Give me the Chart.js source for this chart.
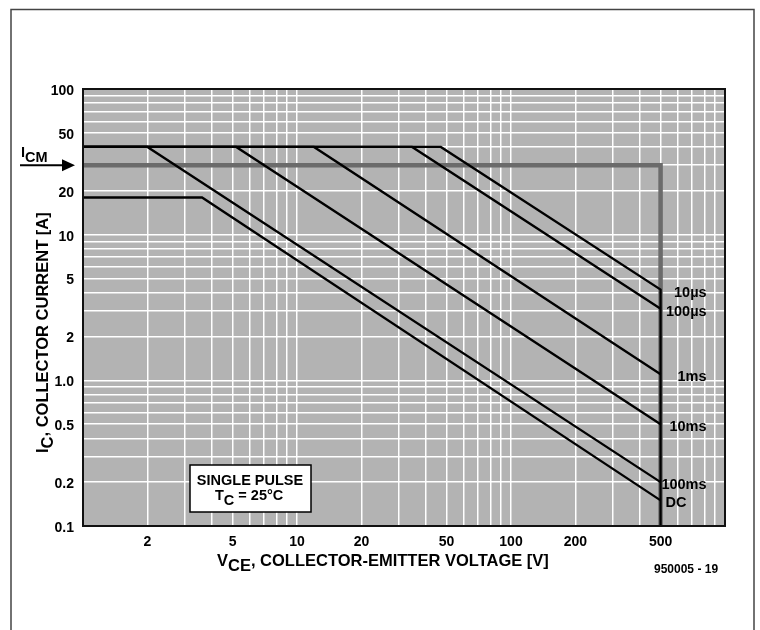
<!DOCTYPE html>
<html>
<head>
<meta charset="utf-8">
<script src="https://cdn.jsdelivr.net/npm/chart.js@4.4.0/dist/chart.umd.min.js"></script>
<style>
  html, body { margin: 0; padding: 0; background: #fff; }
  #wrap { width: 760px; height: 630px; }
</style>
</head>
<body>
<div id="wrap"><canvas id="soa" width="760" height="630"></canvas></div>
<script>
// safe operating area
const pulseLabels = ['10µs', '100µs', '1ms', '10ms', '100ms', 'DC'];
const kneeVolts = [47, 34.5, 12, 5.2, 2, 3.6];
const kneeAmps = [40, 40, 40, 40, 40, 18];
const endAmps = [4.2, 3.1, 1.1, 0.5, 0.2, 0.15];
const startVolts = 1;
const endVolts = 500;
const icmAmps = 30;
const xTickLabels = [2, 5, 10, 20, 50, 100, 200, 500];
const yTickLabels = [0.1, 0.2, 0.5, 1, 2, 5, 10, 20, 50, 100];

const X_MIN = 1, X_MAX = 1000, Y_MIN = 0.1, Y_MAX = 100;
const FONT = '"Liberation Sans", Arial, sans-serif';

const decadeTicks = (lo, hi) => {
  const out = [];
  for (let e = Math.round(Math.log10(lo)); e < Math.round(Math.log10(hi)); e++) {
    for (let m = 1; m < 10; m++) out.push(Number((m * Math.pow(10, e)).toPrecision(3)));
  }
  out.push(hi);
  return out;
};

const hasLabel = (list, v) => list.some(l => Math.abs(l - v) < 1e-9 * Math.max(1, l));

// one dataset per curve
const curveSets = pulseLabels.map((label, i) => {
  const pts = [
    { x: startVolts, y: kneeAmps[i] },
    { x: kneeVolts[i], y: kneeAmps[i] },
    { x: endVolts, y: endAmps[i] },
  ];
  if (i === 0) pts.push({ x: endVolts, y: Y_MIN });
  return {
    label,
    data: pts,
    borderColor: '#000',
    borderWidth: 2.3,
    pointRadius: 0,
    fill: false,
    order: 1,
  };
});

const icmSet = {
  label: 'ICM',
  data: [
    { x: startVolts, y: icmAmps },
    { x: endVolts, y: icmAmps },
    { x: endVolts, y: Y_MIN },
  ],
  borderColor: '#6b6b6b',
  borderWidth: 4.5,
  pointRadius: 0,
  fill: false,
  order: 2,
};

const drawParts = (ctx, x, y, parts) => {
  parts.forEach(p => {
    ctx.font = p.font;
    ctx.fillText(p.t, x, y + (p.dy || 0));
    x += ctx.measureText(p.t).width;
  });
  return x;
};

const sheetDecor = {
  id: 'sheetDecor',
  beforeDraw(chart) {
    const { ctx, chartArea: a } = chart;
    ctx.save();
    ctx.fillStyle = '#fff';
    ctx.fillRect(0, 0, chart.width, chart.height);
    // outer frame
    ctx.strokeStyle = '#444';
    ctx.lineWidth = 1.5;
    ctx.beginPath();
    ctx.moveTo(11, 630);
    ctx.lineTo(11, 9.5);
    ctx.lineTo(754, 9.5);
    ctx.lineTo(754, 630);
    ctx.stroke();
    // plot background
    ctx.fillStyle = '#b3b3b3';
    ctx.fillRect(a.left, a.top, a.width, a.height);
    ctx.restore();
  },
  afterDraw(chart) {
    const { ctx, chartArea: a, scales } = chart;
    const xs = scales.x, ys = scales.y;
    ctx.save();
    ctx.strokeStyle = '#111';
    ctx.lineWidth = 2;
    ctx.strokeRect(a.left, a.top, a.width, a.height);

    ctx.fillStyle = '#000';
    ctx.textBaseline = 'alphabetic';
    const big = 'bold 16.5px ' + FONT;

    // x title
    drawParts(ctx, 217, 566, [
      { t: 'V', font: big },
      { t: 'CE', font: big, dy: 5 },
      { t: ', COLLECTOR-EMITTER VOLTAGE [V]', font: big },
    ]);

    // y title
    ctx.save();
    ctx.translate(48, 453);
    ctx.rotate(-Math.PI / 2);
    drawParts(ctx, 0, 0, [
      { t: 'I', font: big },
      { t: 'C', font: big, dy: 5 },
      { t: ', COLLECTOR CURRENT [A]', font: big },
    ]);
    ctx.restore();

    // figure number
    ctx.font = 'bold 12px ' + FONT;
    ctx.fillText('950005 - 19', 654, 573);

    // I_CM arrow
    const yIcm = ys.getPixelForValue(icmAmps);
    drawParts(ctx, 21, yIcm - 8, [
      { t: 'I', font: 'bold 14.5px ' + FONT },
      { t: 'CM', font: 'bold 14.5px ' + FONT, dy: 5 },
    ]);
    ctx.strokeStyle = '#000';
    ctx.lineWidth = 2;
    ctx.beginPath();
    ctx.moveTo(20, yIcm);
    ctx.lineTo(65, yIcm);
    ctx.stroke();
    ctx.beginPath();
    ctx.moveTo(75, yIcm);
    ctx.lineTo(62, yIcm - 6);
    ctx.lineTo(62, yIcm + 6);
    ctx.closePath();
    ctx.fill();

    // curve labels
    const xEnd = xs.getPixelForValue(endVolts);
    ctx.font = 'bold 14.5px ' + FONT;
    ctx.textBaseline = 'middle';
    pulseLabels.forEach((label, i) => {
      const y = ys.getPixelForValue(endAmps[i]) + 3;
      if (label === 'DC') {
        ctx.textAlign = 'left';
        ctx.fillText(label, xEnd + 5, y);
      } else {
        ctx.textAlign = 'right';
        ctx.fillText(label, xEnd + 46, y);
      }
    });

    // condition box
    ctx.fillStyle = '#fff';
    ctx.fillRect(190, 465, 121, 47);
    ctx.strokeStyle = '#000';
    ctx.lineWidth = 1.5;
    ctx.strokeRect(190, 465, 121, 47);
    ctx.fillStyle = '#000';
    ctx.textAlign = 'center';
    ctx.textBaseline = 'alphabetic';
    ctx.font = 'bold 14.5px ' + FONT;
    ctx.fillText('SINGLE PULSE', 250, 485);
    ctx.textAlign = 'left';
    drawParts(ctx, 215, 500, [
      { t: 'T', font: 'bold 14.5px ' + FONT },
      { t: 'C', font: 'bold 14.5px ' + FONT, dy: 5 },
      { t: ' = 25°C', font: 'bold 14.5px ' + FONT },
    ]);
    ctx.restore();
  }
};

new Chart(document.getElementById('soa'), {
  type: 'line',
  data: { datasets: [...curveSets, icmSet] },
  options: {
    responsive: false,
    animation: false,
    devicePixelRatio: 1,
    layout: { padding: { top: 89, right: 35, left: 0, bottom: 0 } },
    plugins: { legend: { display: false }, tooltip: { enabled: false } },
    elements: { line: { tension: 0 } },
    scales: {
      x: {
        type: 'logarithmic',
        min: X_MIN,
        max: X_MAX,
        afterBuildTicks: s => { s.ticks = decadeTicks(X_MIN, X_MAX).map(v => ({ value: v })); },
        afterFit: s => { s.height = 104; },
        grid: { color: '#ffffff', lineWidth: 1.5, drawTicks: false },
        border: { display: true, color: '#000', width: 2 },
        ticks: {
          autoSkip: false,
          maxRotation: 0,
          padding: 8,
          color: '#000',
          font: { family: FONT, size: 14, weight: 'bold' },
          callback: v => hasLabel(xTickLabels, v) ? String(v) : '',
        },
      },
      y: {
        type: 'logarithmic',
        min: Y_MIN,
        max: Y_MAX,
        afterBuildTicks: s => { s.ticks = decadeTicks(Y_MIN, Y_MAX).map(v => ({ value: v })); },
        afterFit: s => { s.width = 83; },
        grid: { color: '#ffffff', lineWidth: 1.5, drawTicks: false },
        border: { display: true, color: '#000', width: 2 },
        ticks: {
          autoSkip: false,
          padding: 9,
          labelOffset: 2,
          color: '#000',
          font: { family: FONT, size: 14, weight: 'bold' },
          callback: v => {
            if (!hasLabel(yTickLabels, v)) return '';
            return Math.abs(v - 1) < 1e-9 ? '1.0' : String(v);
          },
        },
      },
    },
  },
  plugins: [sheetDecor],
});
</script>
</body>
</html>
